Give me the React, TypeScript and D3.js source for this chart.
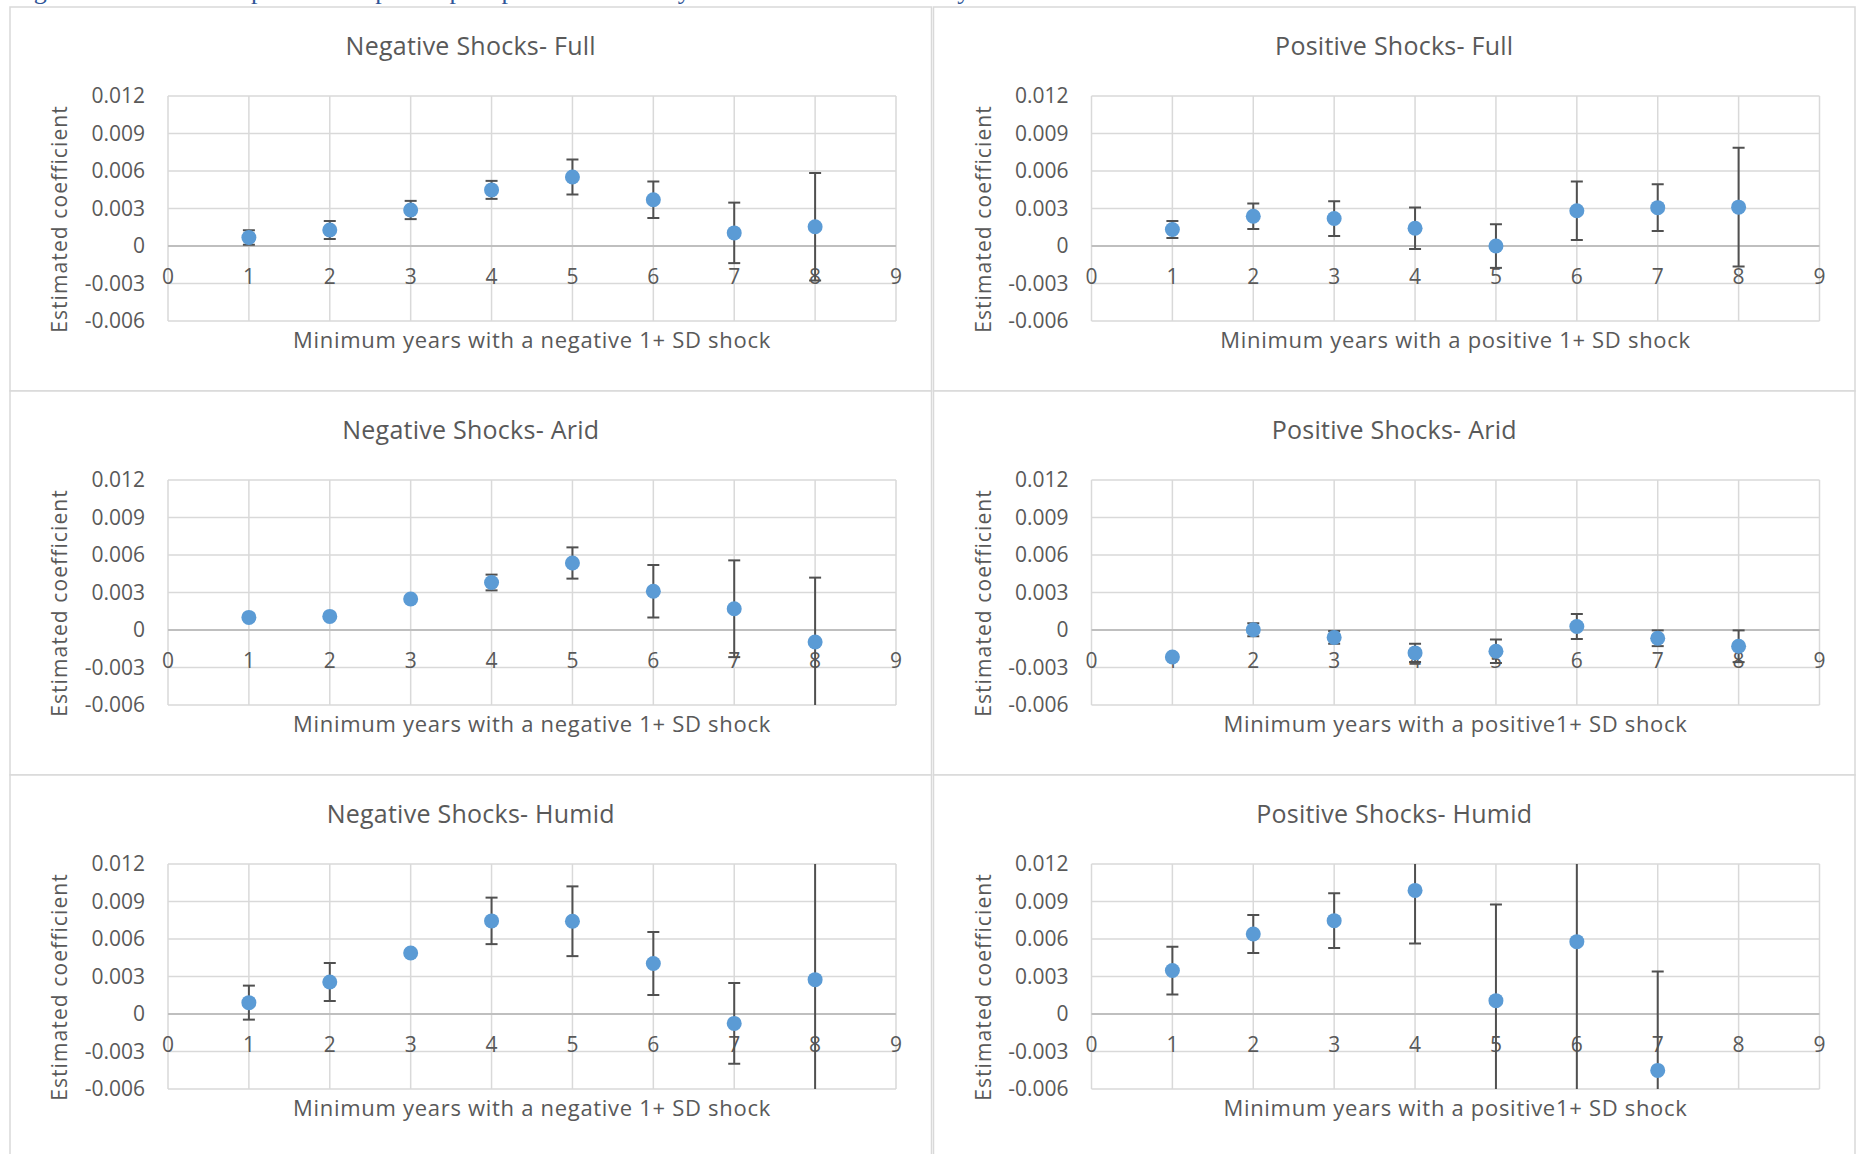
import React from "react";
import * as d3 from "d3";

// ---------- data ----------
const xTicks = [0, 1, 2, 3, 4, 5, 6, 7, 8, 9];
const yTicks = [-0.006, -0.003, 0, 0.003, 0.006, 0.009, 0.012];
const yTickLabels = ["-0.006", "-0.003", "0", "0.003", "0.006", "0.009", "0.012"];

const years = [1, 2, 3, 4, 5, 6, 7, 8];
const yearsHumidPos = [1, 2, 3, 4, 5, 6, 7];

const negFullCoef = [0.00068, 0.00128, 0.00288, 0.00449, 0.00552, 0.0037, 0.00105, 0.00154];
const negFullErr = [0.00058, 0.00072, 0.00073, 0.00072, 0.0014, 0.00146, 0.00242, 0.0043];

const posFullCoef = [0.00132, 0.00238, 0.0022, 0.00142, 0.0, 0.00282, 0.00307, 0.00311];
const posFullErr = [0.00068, 0.00102, 0.00139, 0.00166, 0.00175, 0.00234, 0.00187, 0.00475];

const negAridCoef = [0.00101, 0.00109, 0.00248, 0.0038, 0.00536, 0.0031, 0.0017, -0.00096];
const negAridErr = [0.0002, 0.0002, 0.0002, 0.00063, 0.00125, 0.0021, 0.00387, 0.00515];

const posAridCoef = [-0.00216, 0.00002, -0.00059, -0.00183, -0.0017, 0.00028, -0.00066, -0.0013];
const posAridErr = [0.0002, 0.00052, 0.00051, 0.00073, 0.00094, 0.001, 0.00063, 0.00127];

const negHumidCoef = [0.00091, 0.00256, 0.00488, 0.00745, 0.00742, 0.00404, -0.00075, 0.00275];
const negHumidErr = [0.00136, 0.00152, 0.0002, 0.00186, 0.00279, 0.00252, 0.00323, 0.0105];

const posHumidCoef = [0.00348, 0.0064, 0.00747, 0.00989, 0.00107, 0.00579, -0.00451];
const posHumidErr = [0.00191, 0.00152, 0.00219, 0.00424, 0.0077, 0.0125, 0.00792];

const titles = [
  "Negative Shocks- Full",
  "Positive Shocks- Full",
  "Negative Shocks- Arid",
  "Positive Shocks- Arid",
  "Negative Shocks- Humid",
  "Positive Shocks- Humid",
];
const xTitles = [
  "Minimum years with a negative 1+ SD shock",
  "Minimum years with a positive 1+ SD shock",
  "Minimum years with a negative 1+ SD shock",
  "Minimum years with a positive1+ SD shock",
  "Minimum years with a negative 1+ SD shock",
  "Minimum years with a positive1+ SD shock",
];
const yTitle = "Estimated coefficient";
const caption = "Figure 5: Estimated impacts and repeated precipitation shocks by the minimum number of years with a shock";

const panelsX = [years, years, years, years, years, yearsHumidPos];
const panelsCoef = [negFullCoef, posFullCoef, negAridCoef, posAridCoef, negHumidCoef, posHumidCoef];
const panelsErr = [negFullErr, posFullErr, negAridErr, posAridErr, negHumidErr, posHumidErr];

// ---------- layout ----------
const W = 1858;
const H = 1154;
const colX = [10, 933.5];
const panelW = 921.5;
const rowY = [7, 391, 775];
const panelH = 384;
const plotDX = 158;
const plotW = 728;
const plotDY = 89;
const plotH = 225;

const FONT = "'Open Sans', 'Noto Sans', sans-serif";
const TEXT = "#595959";
const GRID = "#d9d9d9";
const AXIS = "#bfbfbf";
const MARKER = "#5b9bd5";
const ERR = "#505050";

function Panel({ idx }: { idx: number }) {
  const col = idx % 2;
  const row = Math.floor(idx / 2);
  const px = colX[col];
  const py = rowY[row];
  const left = px + plotDX;
  const top = py + plotDY;

  const x = d3.scaleLinear().domain([0, 9]).range([left, left + plotW]);
  const y = d3.scaleLinear().domain([-0.006, 0.012]).range([top + plotH, top]);

  const xs = panelsX[idx];
  const coef = panelsCoef[idx];
  const err = panelsErr[idx];
  const clipId = `clip-${idx}`;

  return (
    <g>
      <rect x={px} y={py} width={panelW} height={panelH} fill="#fff" stroke={GRID} strokeWidth={1.5} />
      <defs>
        <clipPath id={clipId}>
          <rect x={left - 8} y={top} width={plotW + 16} height={plotH} />
        </clipPath>
      </defs>
      {yTicks.map((t) => (
        <line
          key={`h${t}`}
          x1={x(0)}
          x2={x(9)}
          y1={y(t)}
          y2={y(t)}
          stroke={t === 0 ? AXIS : GRID}
          strokeWidth={t === 0 ? 2 : 1.5}
        />
      ))}
      {xTicks.map((t) => (
        <line key={`v${t}`} x1={x(t)} x2={x(t)} y1={y(0.012)} y2={y(-0.006)} stroke={GRID} strokeWidth={1.5} />
      ))}
      <line x1={x(0)} x2={x(9)} y1={y(0)} y2={y(0)} stroke={AXIS} strokeWidth={2} />
      {yTicks.map((t, i) => (
        <text
          key={`yl${t}`}
          x={left - 23}
          y={y(t)}
          dy="0.35em"
          textAnchor="end"
          fontFamily={FONT}
          fontSize={21}
          fill={TEXT}
        >
          {yTickLabels[i]}
        </text>
      ))}
      {xTicks.map((t) => (
        <text
          key={`xl${t}`}
          x={x(t)}
          y={y(0) + 38}
          textAnchor="middle"
          fontFamily={FONT}
          fontSize={21}
          fill={TEXT}
        >
          {t}
        </text>
      ))}
      <text
        x={px + panelW / 2}
        y={py + 48}
        textAnchor="middle"
        fontFamily={FONT}
        fontSize={25}
        letterSpacing={0.25}
        fill={TEXT}
      >
        {titles[idx]}
      </text>
      <text
        x={left + plotW / 2}
        y={py + 341}
        textAnchor="middle"
        fontFamily={FONT}
        fontSize={22}
        letterSpacing={0.7}
        fill={TEXT}
      >
        {xTitles[idx]}
      </text>
      <text
        transform={`translate(${px + 50},${top + 123}) rotate(-90)`}
        textAnchor="middle"
        dy="0.35em"
        fontFamily={FONT}
        fontSize={21}
        letterSpacing={1.1}
        fill={TEXT}
      >
        {yTitle}
      </text>
      <g clipPath={`url(#${clipId})`} stroke={ERR} strokeWidth={2}>
        {xs.map((xv, i) => {
          const cx = x(xv);
          const hi = y(coef[i] + err[i]);
          const lo = y(coef[i] - err[i]);
          return (
            <g key={`e${i}`}>
              <line x1={cx} x2={cx} y1={hi} y2={lo} />
              <line x1={cx - 6} x2={cx + 6} y1={hi} y2={hi} />
              <line x1={cx - 6} x2={cx + 6} y1={lo} y2={lo} />
            </g>
          );
        })}
      </g>
      {xs.map((xv, i) => (
        <circle key={`m${i}`} cx={x(xv)} cy={y(coef[i])} r={7.5} fill={MARKER} />
      ))}
    </g>
  );
}

export default function App() {
  return (
    <div style={{ position: "absolute", left: 0, top: 0, width: W, height: H, background: "#fff" }}>
      <svg width={W} height={H} viewBox={`0 0 ${W} ${H}`} style={{ display: "block" }}>
        <rect x={0} y={0} width={W} height={H} fill="#fff" />
        <text x={12} y={-1} fontFamily="'Liberation Serif', 'Times New Roman', serif" fontSize={26} fill="#2f5597">
          {caption}
        </text>
        {[0, 1, 2, 3, 4, 5].map((i) => (
          <Panel key={i} idx={i} />
        ))}
      </svg>
    </div>
  );
}
